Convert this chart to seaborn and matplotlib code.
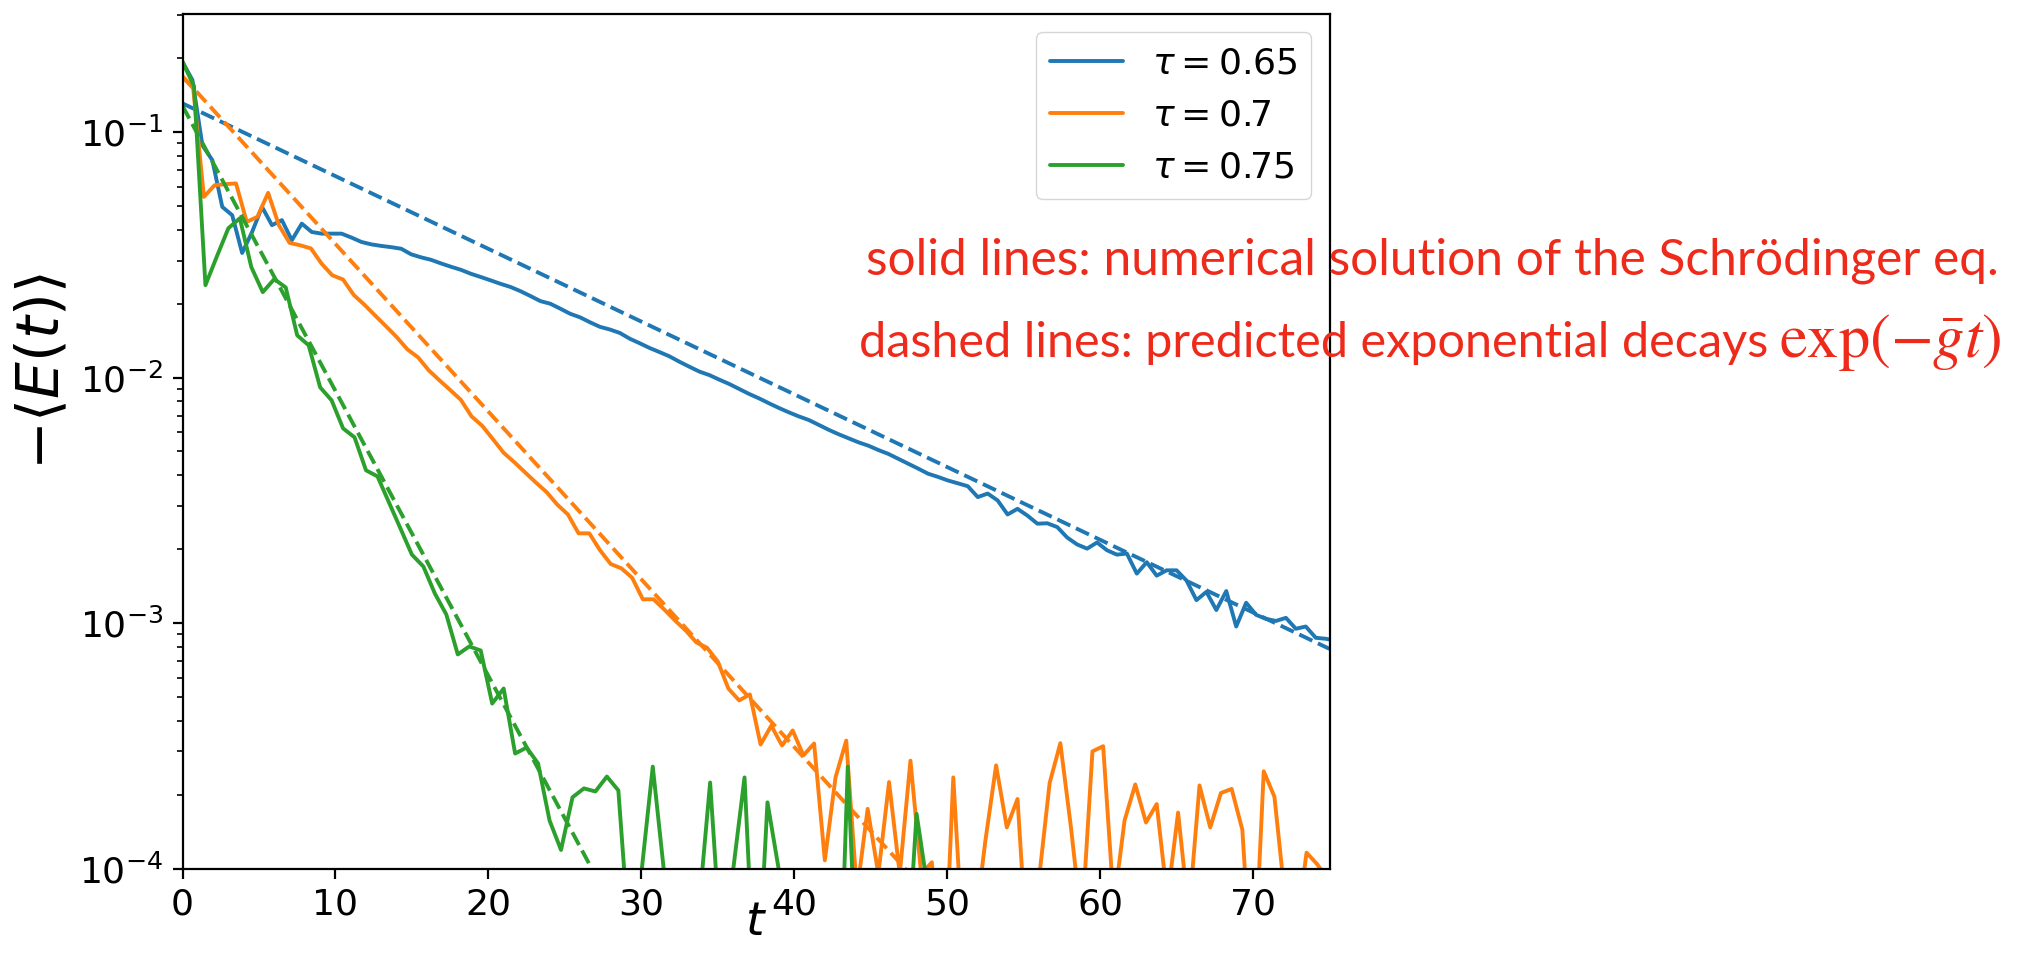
import numpy as np
import pandas as pd
import matplotlib
matplotlib.use("Agg")
import matplotlib.pyplot as plt
import seaborn as sns

# ---- data -------------------------------------------------------------
taus = [0.65, 0.7, 0.75]
colors = ["#1f77b4", "#ff7f0e", "#2ca02c"]

# -<E(t)> from the numerical solution, sampled every dt = tau
energy_065 = [
    0.1935, 0.163, 0.0885, 0.0769, 0.0496, 0.0459, 0.0322, 0.0392, 0.0496, 0.0418,
    0.0438, 0.0363, 0.0424, 0.0392, 0.0386, 0.0386, 0.0386, 0.0372, 0.0357, 0.0349,
    0.0344, 0.0340, 0.0335, 0.0318, 0.0309, 0.0302, 0.0292, 0.0283, 0.0275, 0.0265,
    0.0257, 0.0249, 0.0241, 0.0234, 0.0225, 0.0215, 0.0205, 0.0200, 0.0191, 0.0182,
    0.0176, 0.0168, 0.0161, 0.0157, 0.0152, 0.0144, 0.0138, 0.0132, 0.0127, 0.0122,
    0.0116, 0.01107, 0.01058, 0.01024, 0.00981, 0.00942, 0.00899, 0.00858, 0.00823, 0.00786,
    0.00752, 0.00722, 0.00695, 0.00672, 0.00642, 0.00613, 0.00588, 0.00566, 0.00545, 0.00528,
    0.00507, 0.00489, 0.00467, 0.00446, 0.00426, 0.00406, 0.00394, 0.00381, 0.00371, 0.00361,
    0.00326, 0.00337, 0.00316, 0.00277, 0.00292, 0.00274, 0.00254, 0.00255, 0.00246, 0.00223,
    0.00209, 0.00201, 0.00213, 0.00198, 0.00190, 0.00192, 0.00159, 0.00177, 0.00156, 0.00164,
    0.00164, 0.00149, 0.00124, 0.00134, 0.00113, 0.00135, 0.000968, 0.00121, 0.00108, 0.00104,
    0.00102, 0.00105, 0.000948, 0.000968, 0.000871, 0.000863, 0.000849,
]
energy_07 = [
    0.168, 0.151, 0.0545, 0.0608, 0.0614, 0.0618, 0.0431, 0.0452, 0.0566, 0.0418,
    0.0354, 0.0346, 0.0336, 0.0291, 0.0261, 0.0251, 0.0217, 0.0198, 0.0179, 0.0162,
    0.01464, 0.01304, 0.0121, 0.01071, 0.00975, 0.00891, 0.00812, 0.00695, 0.00636, 0.00561,
    0.00494, 0.00452, 0.00411, 0.00374, 0.00342, 0.00304, 0.00277, 0.00232, 0.00232, 0.00198,
    0.00174, 0.00167, 0.00153, 0.00125, 0.00125, 0.001136, 0.001025, 0.000933, 0.000834, 0.000793,
    0.000697, 0.00054, 0.000484, 0.000512, 0.00032, 0.000382, 0.000317, 0.000365, 0.000289, 0.000323,
    0.000108, 0.000235, 0.000332, 8.0e-5, 0.000175, 9.5e-5, 0.000225, 9.5e-5, 0.000275, 9.5e-5,
    0.000106, 2.3e-5, 0.000235, 4.1e-5, 5.7e-5, 0.00013, 0.000263, 0.000147, 0.000192, 3.9e-5,
    9.0e-5, 0.000223, 0.000324, 0.000146, 5.9e-5, 0.0003, 0.000315, 7.1e-5, 0.000157, 0.00022,
    0.000154, 0.000183, 7.5e-5, 0.000169, 6.5e-5, 0.000218, 0.000147, 0.000203, 0.000211, 0.000144,
    2.9e-5, 0.000249, 0.000196, 7.5e-5, 5.5e-5, 0.000116, 0.000104, 9.0e-5,
]
energy_075 = [
    0.1935, 0.154, 0.0238, 0.0312, 0.0406, 0.0446, 0.0282, 0.0223, 0.0252, 0.0233,
    0.01487, 0.01354, 0.00913, 0.00808, 0.00621, 0.00571, 0.00419, 0.00396, 0.0031, 0.00243,
    0.0019, 0.0017, 0.00132, 0.001084, 0.000745, 0.000803, 0.000773, 0.00047, 0.000541, 0.000294,
    0.000311, 0.000268, 0.000157, 0.000119, 0.000195, 0.000212, 0.000206, 0.000237, 0.000208, 4.8e-5,
    9.5e-5, 0.00026, 9.5e-5, 5.0e-5, 4.0e-5, 6.7e-5, 0.000224, 4.4e-5, 9.8e-5, 0.000235,
    2.4e-5, 0.000186, 9.8e-5, 5.0e-5, 3.0e-5, 6.0e-5, 4.0e-5, 1.0e-5, 0.00026, 2.1e-5,
    5.0e-5, 4.0e-5, 6.0e-5, 3.0e-5, 0.000167, 8.1e-5, 4.5e-5, 3.5e-5, 6.0e-5, 2.5e-5,
    5.5e-5, 4.0e-5, 3.0e-5, 6.5e-5, 4.5e-5, 2.0e-5, 5.0e-5, 3.5e-5, 6.0e-5, 4.0e-5,
    3.0e-5, 5.5e-5, 4.5e-5, 2.5e-5, 6.0e-5, 3.5e-5, 5.0e-5, 4.0e-5, 3.0e-5, 6.5e-5,
    4.5e-5, 2.0e-5, 5.5e-5, 3.5e-5, 6.0e-5, 4.0e-5, 3.0e-5, 5.0e-5, 4.5e-5, 2.5e-5,
    5.5e-5,
]

# predicted exponential decays exp(-g t): values at t = 0 and t = 75
decay_t = [0.0, 75.0]
decay_065 = [0.131, 7.85e-4]
decay_07 = [0.169, 1.27e-6]
decay_075 = [0.128, 2.5e-10]

x_ticks = [0, 10, 20, 30, 40, 50, 60, 70]
note_solid = "solid lines: numerical solution of the Schrödinger eq."
note_dashed = "dashed lines: predicted exponential decays"
note_formula = r"$\exp(-\bar{g}t)$"

# ---- style ------------------------------------------------------------
sns.set_theme(style="ticks")
plt.rcParams.update({
    "font.family": ["DejaVu Sans"],
    "mathtext.fontset": "dejavusans",
    "axes.edgecolor": "black",
    "axes.linewidth": 1.6,
    "axes.labelcolor": "black",
    "text.color": "black",
    "xtick.color": "black",
    "ytick.color": "black",
    "xtick.major.size": 7,
    "ytick.major.size": 7,
    "xtick.major.width": 1.6,
    "ytick.major.width": 1.6,
    "ytick.minor.size": 4,
    "ytick.minor.width": 1.2,
    "xtick.major.pad": 7,
    "ytick.major.pad": 7,
    "xtick.labelsize": 26,
    "ytick.labelsize": 26,
})

W, H = 2039, 965
fig = plt.figure(figsize=(W / 100, H / 100), dpi=100)
fig.patch.set_facecolor("white")
ax = fig.add_axes([182.5 / W, 1 - 868.5 / H, (1329.5 - 182.5) / W, (868.5 - 14) / H])
ax.set_yscale("log")

series = [energy_065, energy_07, energy_075]
fits = [decay_065, decay_07, decay_075]
for tau, color, values, fit in zip(taus, colors, series, fits):
    t = np.arange(len(values)) * tau
    df = pd.DataFrame({"t": t, "E": values})
    sns.lineplot(data=df, x="t", y="E", color=color, linewidth=2.8, ax=ax,
                 estimator=None, sort=False, label=rf"$\tau = {tau}$")
    sns.lineplot(x=decay_t, y=fit, color=color, linewidth=2.8, linestyle="--",
                 ax=ax, estimator=None, sort=False)

ax.set_xlim(0, 75)
ax.set_ylim(1e-4, 0.303)
ax.set_xticks(x_ticks)
ax.set_xlabel(r"$t$", fontsize=34, labelpad=-16)
ax.set_ylabel(r"$-\langle E(t)\rangle$", fontsize=42)
ax.yaxis.set_label_coords(-0.0968, 0.581)

ax.legend(loc="upper right", fontsize=26, frameon=True, fancybox=True,
          framealpha=0.8, edgecolor="0.8", handlelength=2.0)

red = "#ee2a1b"
fig.text(1432.4 / W, 1 - 275 / H, note_solid, color=red, fontsize=35.7,
         family="Lato", ha="center", va="baseline")
fig.text(1768.6 / W, 1 - 357 / H, note_dashed, color=red, fontsize=35.0,
         family="Lato", ha="right", va="baseline")
fig.text(1779 / W, 1 - 357 / H, note_formula, color=red, fontsize=45,
         math_fontfamily="stix", ha="left", va="baseline")

fig.savefig("out.png", dpi=100, facecolor="white")
